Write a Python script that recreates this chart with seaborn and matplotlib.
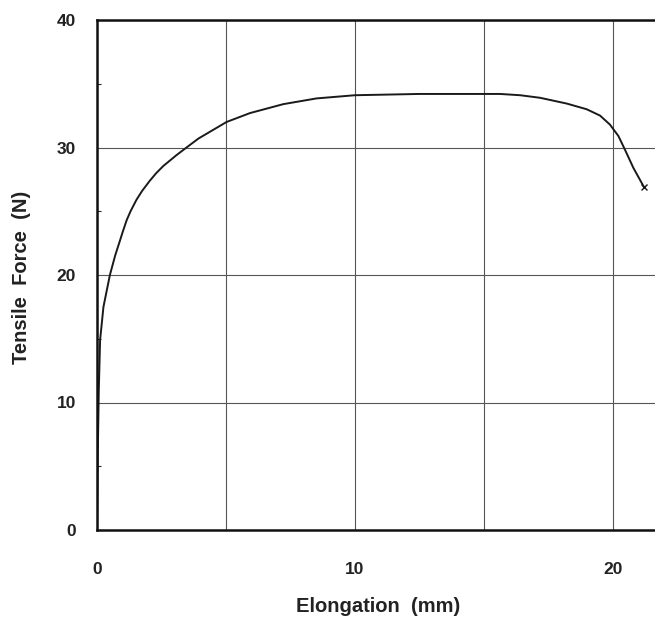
## Tensile force vs elongation curve

import numpy as np
import pandas as pd
import matplotlib
matplotlib.use('Agg')
import matplotlib.pyplot as plt
from matplotlib.ticker import MultipleLocator, FuncFormatter
import seaborn as sns

# data
elongation = [0, 0.03, 0.07, 0.12, 0.25, 0.5, 0.7, 0.89, 1.0, 1.15, 1.3, 1.53,
              1.75, 2.05, 2.3, 2.57, 3.08, 3.47, 3.93, 5.02, 5.93, 7.22, 8.51,
              10.0, 12.5, 15.0, 15.62, 16.40, 17.17, 18.20, 18.98, 19.50, 19.88,
              20.21, 20.47, 20.79, 21.2]
force = [0, 6, 11, 14.9, 17.5, 20.0, 21.5, 22.7, 23.4, 24.3, 25.0, 25.9,
         26.6, 27.4, 28.0, 28.55, 29.4, 30.0, 30.7, 32.0, 32.7, 33.4, 33.85,
         34.1, 34.2, 34.2, 34.2, 34.1, 33.9, 33.45, 33.0, 32.5, 31.8,
         30.9, 29.8, 28.4, 26.9]
break_x = [21.2]
break_y = [26.9]

df = pd.DataFrame({'Elongation': elongation, 'Force': force})

sns.set_style('white')
plt.rcParams['font.family'] = ['Liberation Sans', 'DejaVu Sans']

fig = plt.figure(figsize=(6.55, 6.21), dpi=100)
# axes runs off the right edge like the scanned figure
ax = fig.add_axes([97/655, 91/621, 22*25.8/655, 510/621])

sns.lineplot(data=df, x='Elongation', y='Force', sort=False,
             color='#1a1a1a', linewidth=1.4, ax=ax)
ax.lines[0].set_solid_joinstyle('round')
ax.plot(break_x, break_y, marker='x', color='#1a1a1a', markersize=4,
        markeredgewidth=1.0, linestyle='none')

ax.set_xlim(0, 22)
ax.set_ylim(0, 40)

ax.xaxis.set_major_locator(MultipleLocator(5))
ax.xaxis.set_major_formatter(FuncFormatter(lambda v, p: f'{v:.0f}' if v % 10 == 0 else ''))
ax.yaxis.set_major_locator(MultipleLocator(10))
ax.yaxis.set_minor_locator(MultipleLocator(5))

ax.grid(True, which='major', color='#555555', linewidth=0.8)
ax.tick_params(axis='x', which='major', length=0, pad=23, labelsize=12.5, labelcolor='#222222')
ax.tick_params(axis='y', which='major', length=0, pad=15, labelsize=12.5, labelcolor='#222222')
ax.tick_params(axis='y', which='minor', direction='in', length=3, width=0.8, left=True)
for lab in ax.get_xticklabels() + ax.get_yticklabels():
    lab.set_fontweight('bold')

for side in ['left', 'bottom', 'top', 'right']:
    ax.spines[side].set_color('#111111')
    ax.spines[side].set_linewidth(1.8)

ax.set_xlabel('Elongation  (mm)', fontsize=14.5, fontweight='bold', color='#222222')
ax.set_ylabel('Tensile  Force  (N)', fontsize=14.5, fontweight='bold', color='#222222')
ax.xaxis.set_label_coords((378 - 97) / 567.6, (530 - 597) / 510)
ax.yaxis.set_label_coords((31 - 97) / 567.6, (530 - 277) / 510)

fig.savefig('out.png', dpi=100, facecolor='white')
